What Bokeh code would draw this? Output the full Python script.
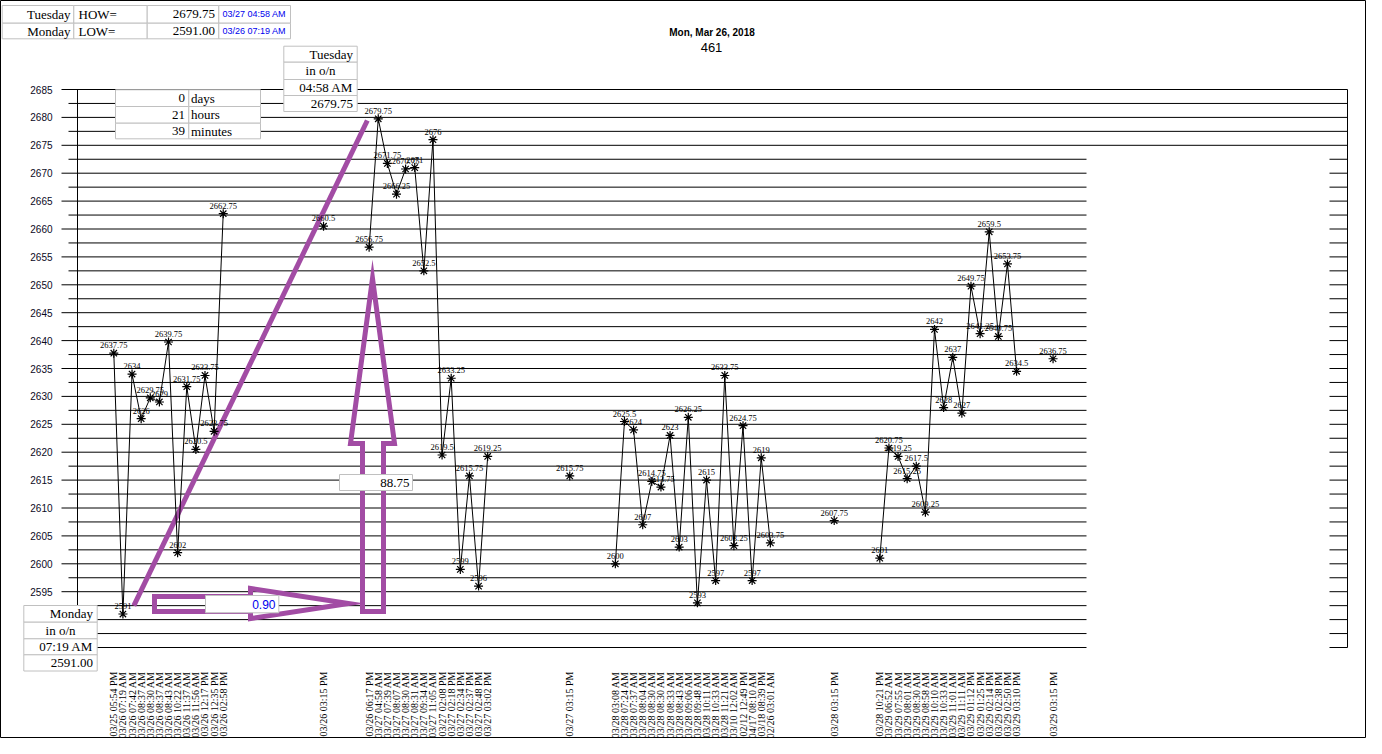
import numpy as np
from datetime import datetime
from bokeh.plotting import figure
from bokeh.models import ColumnDataSource, Range1d
from bokeh.core.properties import value
from bokeh.embed import file_html
from bokeh.resources import INLINE

# ---------------- data ----------------
YEAR = 2018
title_date = "Mon, Mar 26, 2018"
title_count = "461"

times_s1 = ["03/25 05:54 PM", "03/26 07:19 AM", "03/26 07:42 AM", "03/26 08:37 AM",
            "03/26 08:30 AM", "03/26 08:37 AM", "03/26 08:43 AM", "03/26 10:22 AM",
            "03/26 11:37 AM", "03/26 11:56 AM", "03/26 12:17 PM", "03/26 12:35 PM",
            "03/26 02:58 PM"]
prices_s1 = [2637.75, 2591, 2634, 2626, 2629.75, 2629, 2639.75, 2602, 2631.75,
             2620.5, 2633.75, 2623.75, 2662.75]

times_c1 = ["03/26 03:15 PM"]
prices_c1 = [2660.5]

times_s2 = ["03/26 06:17 PM", "03/27 04:58 AM", "03/27 07:39 AM", "03/27 08:07 AM",
            "03/27 08:30 AM", "03/27 08:31 AM", "03/27 09:34 AM", "03/27 11:05 AM",
            "03/27 02:08 PM", "03/27 02:18 PM", "03/27 02:34 PM", "03/27 02:37 PM",
            "03/27 02:48 PM", "03/27 03:02 PM"]
prices_s2 = [2656.75, 2679.75, 2671.75, 2666.25, 2670.75, 2671, 2652.5, 2676,
             2619.5, 2633.25, 2599, 2615.75, 2596, 2619.25]

times_c2 = ["03/27 03:15 PM"]
prices_c2 = [2615.75]

times_s3 = ["03/28 03:08 AM", "03/28 07:24 AM", "03/28 07:37 AM", "03/28 08:04 AM",
            "03/28 08:30 AM", "03/28 08:30 AM", "03/28 08:33 AM", "03/28 08:43 AM",
            "03/28 09:06 AM", "03/28 09:48 AM", "03/28 10:11 AM", "03/28 10:33 AM",
            "03/28 11:21 AM", "03/10 12:02 AM", "02/12 12:49 PM", "04/17 08:10 AM",
            "03/18 08:39 PM", "02/26 03:01 AM"]
prices_s3 = [2600, 2625.5, 2624, 2607, 2614.75, 2613.75, 2623, 2603, 2626.25, 2593,
             2615, 2597, 2633.75, 2603.25, 2624.75, 2597, 2619, 2603.75]

times_c3 = ["03/28 03:15 PM"]
prices_c3 = [2607.75]

times_s4 = ["03/28 10:21 PM", "03/29 06:52 AM", "03/29 07:55 AM", "03/29 08:01 AM",
            "03/29 08:30 AM", "03/29 08:58 AM", "03/29 10:10 AM", "03/29 10:33 AM",
            "03/29 11:01 AM", "03/29 11:11 AM", "03/29 01:12 PM", "03/29 01:25 PM",
            "03/29 02:14 PM", "03/29 02:38 PM", "03/29 02:50 PM", "03/29 03:10 PM"]
prices_s4 = [2601, 2620.75, 2619.25, 2615.25, 2617.5, 2609.25, 2642, 2628, 2637,
             2627, 2649.75, 2641.25, 2659.5, 2640.75, 2653.75, 2634.5]

times_c4 = ["03/29 03:15 PM"]
prices_c4 = [2636.75]

# empty category slots between consecutive blocks
empty_slots = [10, 4, 8, 4, 6, 4, 3]

y_ticks = [2595, 2600, 2605, 2610, 2615, 2620, 2625, 2630, 2635, 2640, 2645,
           2650, 2655, 2660, 2665, 2670, 2675, 2680, 2685]

# ---------------- build category positions ----------------
blocks = [(times_s1, prices_s1), (times_c1, prices_c1), (times_s2, prices_s2),
          (times_c2, prices_c2), (times_s3, prices_s3), (times_c3, prices_c3),
          (times_s4, prices_s4), (times_c4, prices_c4)]

xs, ys, labs = [], [], []
line_x, line_y = [], []
slot = 0
for i, (tt, pp) in enumerate(blocks):
    for t, v in zip(tt, pp):
        xs.append(slot); ys.append(v); labs.append(t)
        line_x.append(slot); line_y.append(v)
        slot += 1
    line_x.append(np.nan); line_y.append(np.nan)
    if i < len(empty_slots):
        slot += empty_slots[i]

ys_arr = np.array(ys)
hi_i = int(np.argmax(ys_arr)); lo_i = int(np.argmin(ys_arr))
hi_v, lo_v = ys[hi_i], ys[lo_i]
hi_dt = datetime.strptime(f"{YEAR}/{labs[hi_i]}", "%Y/%m/%d %I:%M %p")
lo_dt = datetime.strptime(f"{YEAR}/{labs[lo_i]}", "%Y/%m/%d %I:%M %p")
delta = hi_dt - lo_dt if hi_dt > lo_dt else lo_dt - hi_dt
d_days = delta.days
d_hours = delta.seconds // 3600
d_mins = (delta.seconds % 3600) // 60
frac_days = delta.total_seconds() / 86400.0
rng = hi_v - lo_v

# ---------------- layout helpers (pixels -> data) ----------------
W, H = 1366, 738
OFF = 0
X0_PAGE, DXP = 113.3, 9.119
Y_TOP_PAGE, Y_TOP_VAL, PPU = 89.0, 2685.0, 5.58


def fx(px):
    return (px - X0_PAGE) / DXP


def fy(py):
    return Y_TOP_VAL - (py - Y_TOP_PAGE) / PPU


p = figure(width=W, height=H,
           x_range=Range1d(fx(OFF), fx(OFF + W)),
           y_range=Range1d(fy(OFF + H), fy(OFF)),
           x_axis_type=None, y_axis_type=None,
           toolbar_location=None, output_backend="svg", min_border=0)
p.outline_line_color = "black"
p.outline_line_width = 1
p.background_fill_color = "white"
p.border_fill_color = "white"

SERIF = value("Liberation Serif")
SANS = value("Liberation Sans")
PURPLE = "#a24ca4"
GRAY = "#c0c0c0"

# horizontal rules
levels = np.arange(2585, 2685.01, 2.5)
starts = [fx(61) if abs(lv % 5) < 1e-9 else fx(68) for lv in levels]
p.segment(x0=starts, y0=levels, x1=[fx(1347)] * len(levels), y1=levels,
          line_color="black", line_width=1)
p.quad(left=fx(1086), right=fx(1329), top=fy(152), bottom=fy(652),
       fill_color="white", line_color=None)
p.segment(x0=[fx(77), fx(1347)], y0=[fy(89), fy(89)], x1=[fx(77), fx(1347)],
          y1=[fy(647), fy(647)], line_color="black", line_width=1)

# y tick labels
p.text(x=[fx(52)] * len(y_ticks), y=y_ticks, text=[str(t) for t in y_ticks],
       text_align="right", text_baseline="middle", text_font=SANS,
       text_font_size="10px", text_color="#0a0a1e")

# title
p.text(x=[fx(711.5)], y=[fy(32)], text=[title_date], text_align="center",
       text_baseline="middle", text_font=SANS, text_font_size="10px",
       text_font_style="bold", text_color="black")
p.text(x=[fx(711)], y=[fy(46.5)], text=[title_count], text_align="center",
       text_baseline="middle", text_font=SANS, text_font_size="13px",
       text_color="black")

# purple annotations
p.line(x=[xs[lo_i] + 1.2, xs[hi_i] - 1.2], y=[lo_v + 1.5, hi_v - 0.3],
       line_color=PURPLE, line_width=5)
varrow_x = [362, 362, 350, 372, 394, 383, 383]
varrow_y = [611, 443, 443, 278, 443, 443, 611]
p.patch(x=[fx(v) for v in varrow_x], y=[fy(v) for v in varrow_y],
        fill_color=None, line_color=PURPLE, line_width=5, line_join="miter")
harrow_x = [154, 250, 250, 348, 250, 250, 154]
harrow_y = [596, 596, 588, 603, 618, 611, 611]
p.patch(x=[fx(v) for v in harrow_x], y=[fy(v) for v in harrow_y],
        fill_color=None, line_color=PURPLE, line_width=5, line_join="miter")

# data line + markers + value labels
p.line(x=line_x, y=line_y, line_color="black", line_width=1)
src = ColumnDataSource(dict(x=xs, y=ys, lab=labs, vt=[f"{v:g}" for v in ys]))
p.scatter(x="x", y="y", source=src, marker="asterisk", size=9,
          line_color="black", line_width=1.2)
p.text(x="x", y="y", text="vt", source=src, text_align="center",
       text_baseline="bottom", y_offset=-5, text_font=SERIF,
       text_font_size="8.5px", text_color="black")

# rotated category labels
p.text(x="x", y=fy(671), text="lab", source=src, angle=np.pi / 2,
       text_align="right", text_baseline="middle", text_font=SERIF,
       text_font_size="10px", text_color="black")

# ---------------- boxes ----------------
cells = []  # (left, right, top, bottom) in px


def grid_cells(cols, rows):
    for r0, r1 in zip(rows[:-1], rows[1:]):
        for c0, c1 in zip(cols[:-1], cols[1:]):
            cells.append((c0, c1, r0, r1))


top_cols = [1.7, 73.3, 146.7, 218.3, 290]
top_rows = [5.0, 22.7, 38.3]
tue_cols = [283.3, 356.7]
tue_rows = [45.7, 61.7, 79, 95, 111]
day_cols = [115, 188.3, 260]
day_rows = [89.3, 106, 122.7, 138.3]
mon_cols = [23.3, 96.7]
mon_rows = [605, 621.7, 638.3, 654.3, 670.5]
grid_cells(top_cols, top_rows)
grid_cells(tue_cols, tue_rows)
grid_cells(day_cols, day_rows)
grid_cells(mon_cols, mon_rows)
cells.append((339, 412, 474, 490))
cells.append((205, 278.3, 595, 612.3))

p.quad(left=[fx(c[0]) for c in cells], right=[fx(c[1]) for c in cells],
       top=[fy(c[2]) for c in cells], bottom=[fy(c[3]) for c in cells],
       fill_color="white", line_color=GRAY, line_width=1)

texts = []  # (x, y, text, align, font, size, color)


def mid(rows, i):
    return (rows[i] + rows[i + 1]) / 2


hi_day = hi_dt.strftime("%A")
lo_day = lo_dt.strftime("%A")
# top table
texts += [
    (70, mid(top_rows, 0), hi_day, "right", SERIF, "13px", "black"),
    (78, mid(top_rows, 0), "HOW=", "left", SERIF, "13px", "black"),
    (214.5, mid(top_rows, 0), f"{hi_v:.2f}", "right", SERIF, "13px", "black"),
    (222, mid(top_rows, 0), hi_dt.strftime("%m/%d %I:%M %p"), "left", SANS, "9px", "#0000ee"),
    (70, mid(top_rows, 1), lo_day, "right", SERIF, "13px", "black"),
    (78, mid(top_rows, 1), "LOW=", "left", SERIF, "13px", "black"),
    (214.5, mid(top_rows, 1), f"{lo_v:.2f}", "right", SERIF, "13px", "black"),
    (222, mid(top_rows, 1), lo_dt.strftime("%m/%d %I:%M %p"), "left", SANS, "9px", "#0000ee"),
]
# high box
texts += [
    (352.5, mid(tue_rows, 0), hi_day, "right", SERIF, "13px", "black"),
    (320, mid(tue_rows, 1), "in o/n", "center", SERIF, "13px", "black"),
    (352.5, mid(tue_rows, 2), hi_dt.strftime("%I:%M %p"), "right", SERIF, "13px", "black"),
    (352.5, mid(tue_rows, 3), f"{hi_v:.2f}", "right", SERIF, "13px", "black"),
]
# elapsed box
for i, (n, u) in enumerate([(d_days, "days"), (d_hours, "hours"), (d_mins, "minutes")]):
    texts.append((184.5, mid(day_rows, i), str(n), "right", SERIF, "13px", "black"))
    texts.append((190.5, mid(day_rows, i), u, "left", SERIF, "13px", "black"))
# low box
texts += [
    (92.5, mid(mon_rows, 0), lo_day, "right", SERIF, "13px", "black"),
    (60, mid(mon_rows, 1), "in o/n", "center", SERIF, "13px", "black"),
    (92.5, mid(mon_rows, 2), lo_dt.strftime("%I:%M %p"), "right", SERIF, "13px", "black"),
    (92.5, mid(mon_rows, 3), f"{lo_v:.2f}", "right", SERIF, "13px", "black"),
]
texts.append((409, 482, f"{rng:.2f}", "right", SERIF, "13px", "black"))
texts.append((275, 603.7, f"{frac_days:.2f}", "right", SANS, "12px", "#0000ee"))

for (tx, ty, tt, al, fnt, sz, col) in texts:
    p.text(x=[fx(tx)], y=[fy(ty)], text=[tt], text_align=al, text_baseline="middle",
           text_font=fnt, text_font_size=sz, text_color=col)

open("out.html", "w").write(file_html(p, INLINE))
